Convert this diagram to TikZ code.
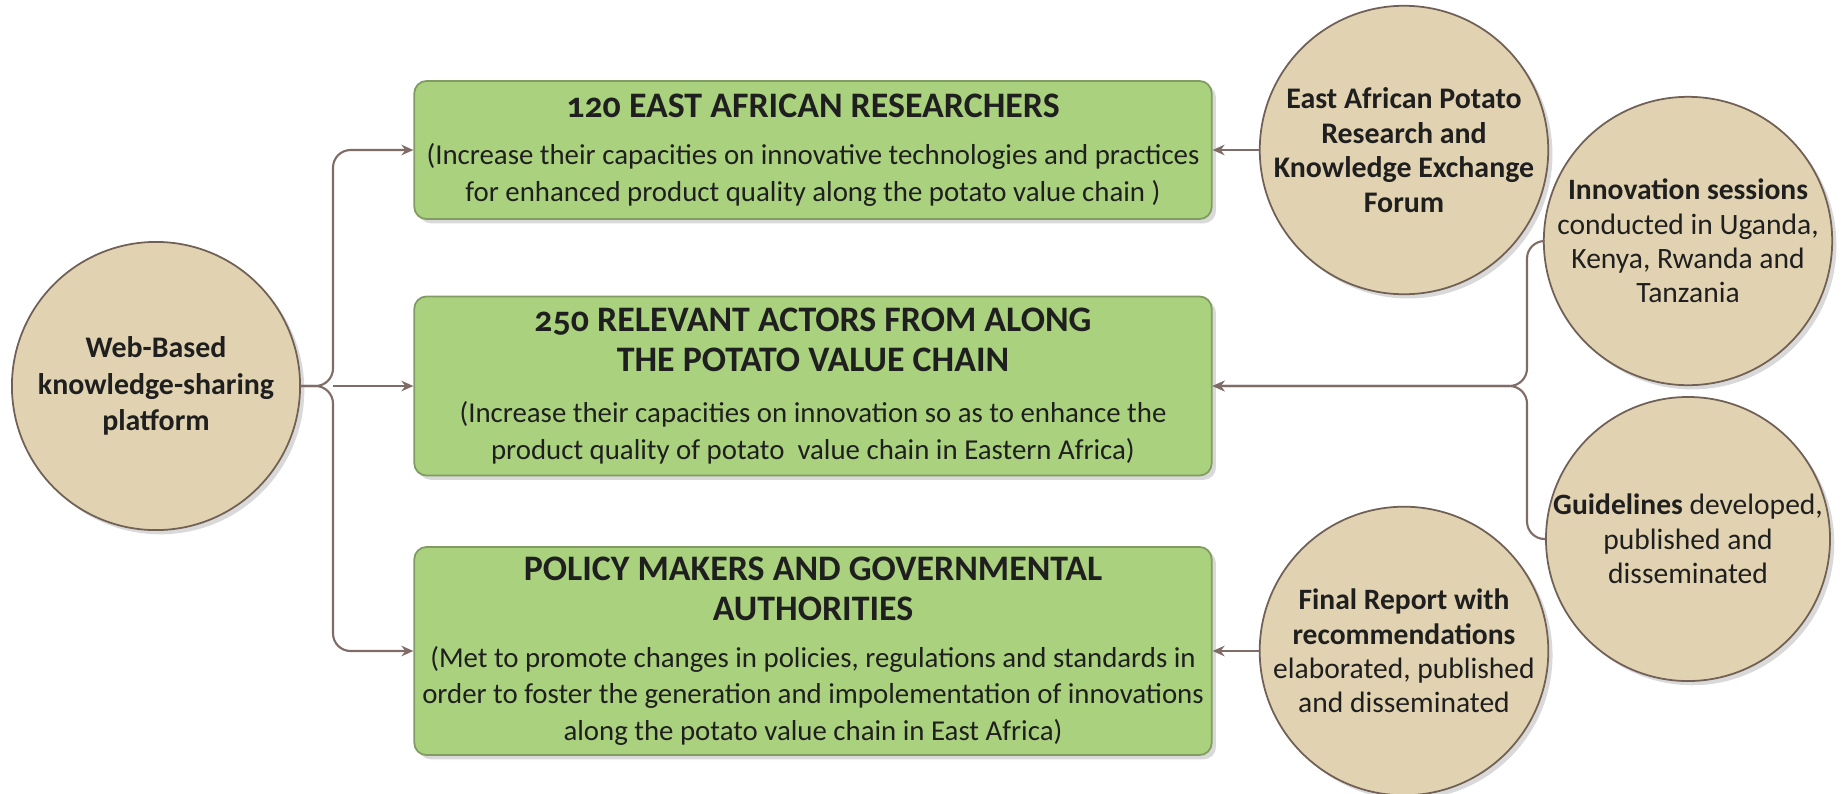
\documentclass[tikz,border=0pt]{standalone}
\usepackage{fontspec}
\setmainfont{Carlito}[Numbers=OldStyle]
\usetikzlibrary{arrows.meta,shadows}
\definecolor{boxgreen}{RGB}{170,209,126}
\definecolor{boxedge}{RGB}{128,156,98}
\definecolor{circtan}{RGB}{225,211,177}
\definecolor{circedge}{RGB}{112,96,86}
\definecolor{linkbrown}{RGB}{128,108,102}
\newcommand\hd[1]{{\fontsize{10.2}{11.5}\selectfont\bfseries #1}}
\tikzset{
  softshadow/.style={drop shadow={shadow xshift=1.2pt, shadow yshift=-1.2pt, opacity=0.25, fill=black!60}},
  goalbox/.style={draw=boxedge, fill=boxgreen, rounded corners=3.5pt, line width=0.5pt,
    minimum width=7.97cm, align=center, inner sep=0pt, text=black!88, softshadow,
    font=\fontsize{8.2}{10.4}\selectfont},
  actor/.style={circle, draw=circedge, fill=circtan, line width=0.5pt, minimum size=2.82cm,
    align=center, inner sep=0pt, text=black!88, softshadow,
    font=\fontsize{8.4}{9.8}\selectfont},
  link/.style={draw=linkbrown, line width=0.6pt, -{Stealth[length=3.4pt,width=3pt]}}
}
\begin{document}
\begin{tikzpicture}[x=0.01cm, y=-0.01cm]
  \useasboundingbox (0,0) rectangle (1845,793);

  \node[actor, minimum size=2.88cm, font=\fontsize{8.5}{10.4}\selectfont\bfseries] (web) at (156,386)
    {Web-Based\\ knowledge-sharing\\ platform};

  \node[goalbox, minimum height=1.38cm] (res) at (813,150)
    {\hd{120 EAST AFRICAN RESEARCHERS}\\[3pt]
     (Increase their capacities on innovative technologies and practices\\
     for enhanced product quality along the potato value chain )};
  \node[goalbox, minimum height=1.79cm] (act) at (813,386)
    {\hd{250 RELEVANT ACTORS FROM ALONG}\\[1pt] \hd{THE POTATO VALUE CHAIN}\\[4pt]
     (Increase their capacities on innovation so as to enhance the\\
     product quality of potato\ \ value chain in Eastern Africa)};
  \node[goalbox, minimum height=2.08cm] (pol) at (813,651)
    {\hd{POLICY MAKERS AND GOVERNMENTAL}\\[1pt] \hd{AUTHORITIES}\\[3pt]
     (Met to promote changes in policies, regulations and standards in\\
     order to foster the generation and impolementation of innovations\\
     along the potato value chain in East Africa)};

  \node[actor, font=\fontsize{8.5}{9.8}\selectfont\bfseries] (forum) at (1404,150)
    {East African Potato\\ Research and\\ Knowledge Exchange\\ Forum};
  \node[actor] (inno) at (1688,241)
    {\textbf{Innovation sessions}\\ conducted in Uganda,\\ Kenya, Rwanda and\\ Tanzania};
  \node[actor] (guide) at (1688,539)
    {\textbf{Guidelines} developed,\\ published and\\ disseminated};
  \node[actor] (report) at (1404,651)
    {\textbf{Final Report with}\\ \textbf{recommendations}\\ elaborated, published\\ and disseminated};

  \coordinate (split) at (333,386);
  \coordinate (join) at (1527,386);

  \draw[link, rounded corners=5pt] (web.east) -- (split) |- (res.west);
  \draw[link] (split) -- (act.west);
  \draw[link, rounded corners=5pt] (web.east) -- (split) |- (pol.west);
  \draw[link] (forum.west) -- (res.east);
  \draw[link, rounded corners=5pt] (inno.west) -| (join) -- (act.east);
  \draw[link, rounded corners=5pt] (guide.west) -| (join) -- (act.east);
  \draw[link] (report.west) -- (pol.east);
\end{tikzpicture}
\end{document}
